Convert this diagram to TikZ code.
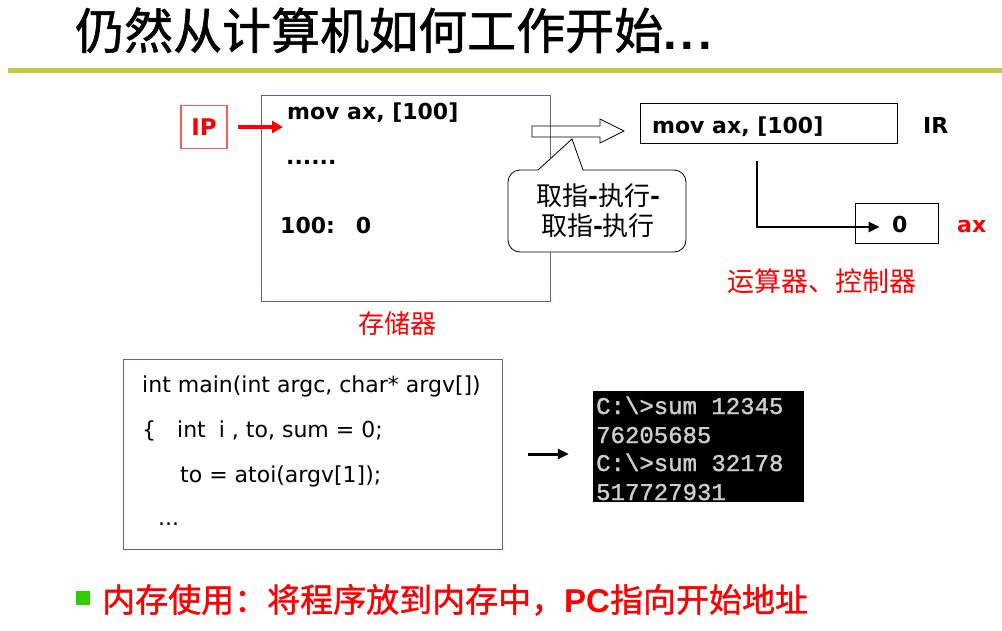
\documentclass[tikz,border=0pt]{standalone}
\usepackage{fontspec}
\setmainfont{DejaVu Sans}
\newfontfamily\cjk{Noto Sans CJK SC}
\newfontfamily\cjkm{Noto Sans CJK SC}[FakeBold=1.2]
\newfontfamily\lib{Liberation Sans}
\newfontfamily\mono{Liberation Mono}[FakeBold=1.5]
\usetikzlibrary{arrows.meta}
\definecolor{olivebar}{RGB}{200,200,60}
\definecolor{boxblue}{RGB}{96,96,160}
\definecolor{ipred}{RGB}{255,90,90}
\definecolor{bulletgreen}{RGB}{51,204,0}
\definecolor{termgray}{RGB}{205,205,205}
\tikzset{
  txt/.style={inner sep=0pt, anchor=base west},
  bold22/.style={font=\fontsize{22}{26}\selectfont\bfseries},
  reg22/.style={font=\fontsize{22}{26}\selectfont},
  cjklabel/.style={font=\cjk\fontsize{27}{30}\selectfont, text=red},
  box/.style={draw, inner sep=0pt},
  redarrow/.style={draw=red, line width=4pt, -{Triangle[length=11pt,width=12pt]}},
  blackarrow/.style={draw=black, line width=2.6pt, -{Triangle[length=11pt,width=10pt]}},
  termline/.style={txt, font=\mono\fontsize{24}{28}\selectfont, text=termgray},
}
\begin{document}
\begin{tikzpicture}[x=1pt,y=-1pt]
\useasboundingbox (0,0) rectangle (1002,630);
\fill[white] (0,0) rectangle (1002,630);

% title
\node[txt, font=\cjkm\fontsize{49}{55}\selectfont] (title) at (75,49)
  {仍然从计算机如何工作开始{\lib\bfseries .\hspace{4pt}.\hspace{4pt}.}};
\fill[olivebar] (8,68) rectangle (1002,73);

% IP and memory
\node[box, draw=ipred, line width=1.2pt, minimum width=46pt, minimum height=43pt,
      font=\fontsize{23}{26}\selectfont\bfseries, text=red] (ip) at (204,127) {IP};
\node[box, draw=boxblue, line width=1pt, minimum width=289pt, minimum height=206pt] (mem) at (405.5,198) {};
\node[txt, bold22] (m1) at (287,119) {mov ax, [100]};
\node[txt, bold22] (m2) at (286,164) {......};
\node[txt, bold22] (m3) at (280,233) {100:\hspace{21pt}0};
\draw[redarrow] ([xshift=10pt]ip.east) -- ([xshift=-4pt]ip.east -| m1.west);
\node[txt, cjklabel, font=\cjk\fontsize{26}{30}\selectfont] (memlabel) at (358,333) {存储器};

% hollow arrow
\draw[line width=0.8pt] (532,126) -- (600,126) -- (600,119) -- (624,131) -- (600,143)
  -- (600,137) -- (532,137) -- cycle;

% callout
\filldraw[fill=white, draw=black, line width=0.8pt]
  (538,170) -- (572,139) -- (583,170) -- (674,170) arc(-90:0:12) -- (686,240)
  arc(0:90:12) -- (520,252) arc(90:180:12) -- (508,182) arc(180:270:12) -- cycle;
\node[inner sep=0pt, anchor=base, font=\cjk\fontsize{26}{30}\selectfont] (c1) at (598,205)
  {取指{\bfseries -}执行{\bfseries -}};
\node[inner sep=0pt, anchor=base, font=\cjk\fontsize{26}{30}\selectfont] (c2) at (598,235)
  {取指{\bfseries -}执行};

% IR and ax
\node[box, line width=0.8pt, minimum width=257pt, minimum height=40pt] (ir) at (768.5,123) {};
\node[txt, bold22] (irtext) at (652,133) {mov ax, [100]};
\node[txt, bold22] (irlabel) at (923,133) {IR};
\node[box, line width=0.8pt, minimum width=83pt, minimum height=40pt] (axbox) at (896.5,223) {};
\node[txt, bold22] (axval) at (892,232) {0};
\node[txt, bold22, text=red] (axlabel) at (957,232) {ax};
\draw[blackarrow] ([xshift=-11.5pt,yshift=-18pt]ir.south) |- ([xshift=25pt,yshift=-4pt]axbox.west);
\node[txt, cjklabel] (alu) at (727,291) {运算器、控制器};

% code box
\node[box, draw=boxblue, line width=1pt, minimum width=379pt, minimum height=190pt] (code) at (312.5,454) {};
\node[txt, reg22] (l1) at (142,392) {int main(int argc, char* argv[])};
\node[txt, reg22] (l2) at (142,437) {\{\hspace{21pt}int\hspace{13pt}i , to, sum = 0;};
\node[txt, reg22] (l3) at (180,482) {to = atoi(argv[1]);};
\node[txt, reg22] (l4) at (158,525) {...};

% terminal
\node[fill=black, inner sep=0pt, minimum width=211pt, minimum height=111pt] (term) at (698.5,446.5) {};
\node[termline] (t1) at (596,414) {C:\textbackslash>sum 12345};
\node[termline] (t2) at (596,443) {76205685};
\node[termline] (t3) at (596,471) {C:\textbackslash>sum 32178};
\node[termline] (t4) at (596,500) {517727931};
\draw[blackarrow, line width=3pt] ([xshift=25pt]code.east) -- ([xshift=-24pt]term.west |- code.east);

% bottom line
\node[fill=bulletgreen, inner sep=0pt, minimum size=14pt] (bullet) at (83,598) {};
\node[txt, text=red, font=\cjkm\fontsize{33}{36}\selectfont] (note) at (102,612)
  {内存使用：将程序放到内存中，{\lib\bfseries PC}指向开始地址};
\end{tikzpicture}
\end{document}
